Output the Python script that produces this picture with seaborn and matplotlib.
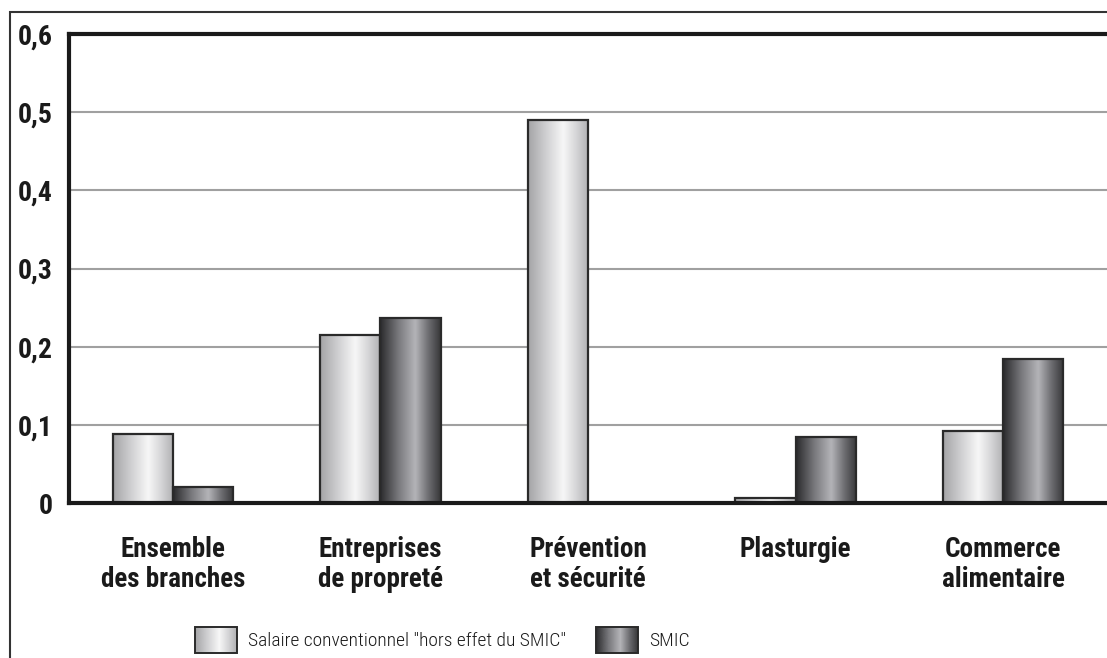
import numpy as np
import pandas as pd
import matplotlib
matplotlib.use("Agg")
import matplotlib.pyplot as plt
import seaborn as sns
from matplotlib.patches import Rectangle, Patch
from matplotlib.legend_handler import HandlerBase
from matplotlib.image import BboxImage
from matplotlib.transforms import Bbox, TransformedBbox
from matplotlib.colors import LinearSegmentedColormap

categories = ["Ensemble\ndes branches", "Entreprises\nde propreté", "Prévention\net sécurité",
              "Plasturgie", "Commerce\nalimentaire"]
series_names = ['Salaire conventionnel "hors effet du SMIC"', "SMIC"]
salaire_values = [0.088, 0.215, 0.490, 0.007, 0.092]
smic_values = [0.020, 0.237, 0.0, 0.084, 0.184]
y_ticks = [0, 0.1, 0.2, 0.3, 0.4, 0.5, 0.6]
y_tick_labels = ["0", "0,1", "0,2", "0,3", "0,4", "0,5", "0,6"]

df = pd.DataFrame({
    "cat": categories * 2,
    "serie": [series_names[0]] * 5 + [series_names[1]] * 5,
    "val": salaire_values + smic_values,
})

sns.set_theme(style="white")
plt.rcParams["font.family"] = ["Roboto Condensed", "DejaVu Sans"]
plt.rcParams["font.stretch"] = "condensed"

light_cmap = LinearSegmentedColormap.from_list(
    "light", [(0, "#a4a4a6"), (0.3, "#d0d0d2"), (0.58, "#f7f7f7"), (0.8, "#d4d4d6"), (1, "#b0b0b2")])
dark_cmap = LinearSegmentedColormap.from_list(
    "dark", [(0, "#2a2a2c"), (0.3, "#78787c"), (0.58, "#b4b4b8"), (0.8, "#6c6c70"), (1, "#363638")])
grad = np.linspace(0, 1, 256).reshape(1, -1)

fig = plt.figure(figsize=(11.07, 6.58), dpi=100)
ax = fig.add_axes([69 / 1107, 1 - 503 / 658, 1 - 69 / 1107, (503 - 34) / 658])

sns.barplot(data=df, x="cat", y="val", hue="serie", hue_order=series_names,
            order=categories, width=0.58, gap=0, dodge=True,
            palette=["#d0d0d0", "#6a6a6a"], edgecolor="#2a2a2a", linewidth=1.6,
            legend=False, ax=ax, zorder=3)

n = len(categories)
for i, p in enumerate(ax.patches):
    h = p.get_height()
    if h <= 0:
        p.set_visible(False)
        continue
    cmap = light_cmap if i < n else dark_cmap
    x0 = p.get_x()
    w = p.get_width()
    im = ax.imshow(grad, cmap=cmap, aspect="auto", extent=(x0, x0 + w, 0, h),
                   interpolation="bicubic", zorder=3.5)
    im.set_clip_path(p)
    p.set_facecolor("none")
    p.set_zorder(4)

ax.set_xlim(-0.5, 4.5)
ax.set_ylim(0, 0.6)
ax.set_yticks(y_ticks)
ax.set_yticklabels(y_tick_labels, fontsize=20, fontweight="bold", color="#1a1a1a")
ax.tick_params(axis="y", length=0, pad=11.5)
ax.tick_params(axis="x", length=0, pad=24)
for lab in ax.get_xticklabels():
    lab.set_fontsize(19.5)
    lab.set_fontweight("bold")
    lab.set_color("#1a1a1a")
    lab.set_linespacing(1.15)
ax.set_xlabel("")
ax.set_ylabel("")
ax.yaxis.grid(True, color="#a0a0a0", linewidth=1.5, zorder=0)
ax.xaxis.grid(False)
ax.set_axisbelow(True)
for s in ["left", "top", "bottom"]:
    ax.spines[s].set_visible(True)
    ax.spines[s].set_color("#1a1a1a")
    ax.spines[s].set_linewidth(3)
    ax.spines[s].set_zorder(5)
ax.spines["right"].set_visible(False)


class GradHandler(HandlerBase):
    def __init__(self, cmap):
        super().__init__()
        self.cmap = cmap

    def create_artists(self, legend, orig_handle, xdescent, ydescent, width, height, fontsize, trans):
        bb = TransformedBbox(Bbox.from_bounds(-xdescent, -ydescent, width, height), trans)
        img = BboxImage(bb, cmap=self.cmap, interpolation="bicubic")
        img.set_data(grad)
        rect = Rectangle((-xdescent, -ydescent), width, height, fill=False,
                         edgecolor="#2a2a2a", linewidth=1.4, transform=trans)
        return [img, rect]


h1 = Patch(facecolor="#d0d0d0")
h2 = Patch(facecolor="#6a6a6a")
fs = 14
fpx = fs * 100 / 72
leg = fig.legend([h1, h2], series_names, ncol=2, frameon=False,
                 loc="upper left", bbox_to_anchor=(195 / 1107, 1 - 627 / 658),
                 borderpad=0, borderaxespad=0,
                 prop={"family": ["Roboto Condensed", "DejaVu Sans"], "weight": "light",
                       "stretch": "condensed", "size": fs},
                 handlelength=42 / fpx, handleheight=32 / fpx,
                 handletextpad=11 / fpx, columnspacing=30 / fpx,
                 handler_map={h1: GradHandler(light_cmap), h2: GradHandler(dark_cmap)})
for t in leg.get_texts():
    t.set_color("#1a1a1a")

frame = Rectangle((10 / 1107, -0.05), 1.1, 1 - 12 / 658 + 0.05, transform=fig.transFigure,
                  fill=False, edgecolor="#333333", linewidth=1.5, zorder=10)
fig.patches.append(frame)

fig.savefig("out.png", dpi=100)
